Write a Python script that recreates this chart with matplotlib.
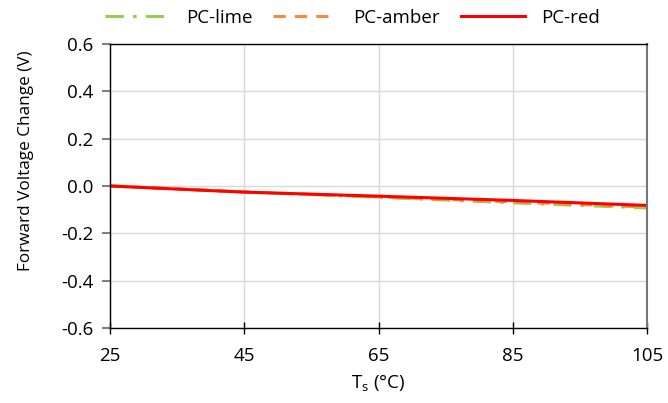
import numpy as np
import matplotlib
matplotlib.use("Agg")
import matplotlib.pyplot as plt

# data
temps = [25, 45, 65, 85, 105]
pc_lime = [0.0, -0.025, -0.048, -0.071, -0.093]
pc_amber = [0.0, -0.025, -0.046, -0.067, -0.089]
pc_red = [0.0, -0.026, -0.043, -0.061, -0.082]

plt.rcParams['font.family'] = ['Open Sans', 'DejaVu Sans']
plt.rcParams['mathtext.fontset'] = 'custom'
plt.rcParams['mathtext.rm'] = 'Open Sans'
plt.rcParams['mathtext.it'] = 'Open Sans'
plt.rcParams['axes.unicode_minus'] = False

fig = plt.figure(figsize=(6.68, 4.03), dpi=100)
ax = fig.add_axes([0.1647, 0.186, 0.804, 0.705])

ax.plot(temps, pc_lime, color='#92D050', lw=2.2, dashes=(6, 3, 1.2, 3), label='PC-lime')
ax.plot(temps, pc_amber, color='#F28C3C', lw=2.2, dashes=(4, 3), label='PC-amber')
ax.plot(temps, pc_red, color='#FF0000', lw=2.2, label='PC-red')

ax.set_xlim(25, 105)
ax.set_ylim(-0.6, 0.6)
ax.set_xticks([25, 45, 65, 85, 105])
ax.set_yticks(np.arange(-0.6, 0.61, 0.2))
ax.yaxis.set_major_formatter(matplotlib.ticker.FormatStrFormatter('%.1f'))
ax.grid(True, color='#D9D9D9', lw=1)
ax.set_axisbelow(True)

for s in ['top', 'left', 'bottom']:
    ax.spines[s].set_color('black')
    ax.spines[s].set_linewidth(1)
ax.spines['right'].set_color('#767676')
ax.spines['right'].set_linewidth(1.5)

ax.tick_params(axis='y', direction='out', length=6, color='#808080', width=1.5,
               labelsize=13.5, pad=6)
ax.tick_params(axis='x', direction='inout', length=8, color='black', width=1,
               labelsize=13.5, pad=10)

ax.set_xlabel('T$_{\\mathrm{s}}$ (°C)', fontsize=13.5, labelpad=5)
ax.set_ylabel('Forward Voltage Change (V)', fontsize=12.3)
ax.yaxis.set_label_coords(-0.141, 0.588)

fig.legend(loc='upper center', bbox_to_anchor=(0.528, 1.02), ncol=3, frameon=False,
           fontsize=13.5, handlelength=3.4, columnspacing=1.1, handletextpad=0.9)

fig.savefig('out.png', dpi=100)
